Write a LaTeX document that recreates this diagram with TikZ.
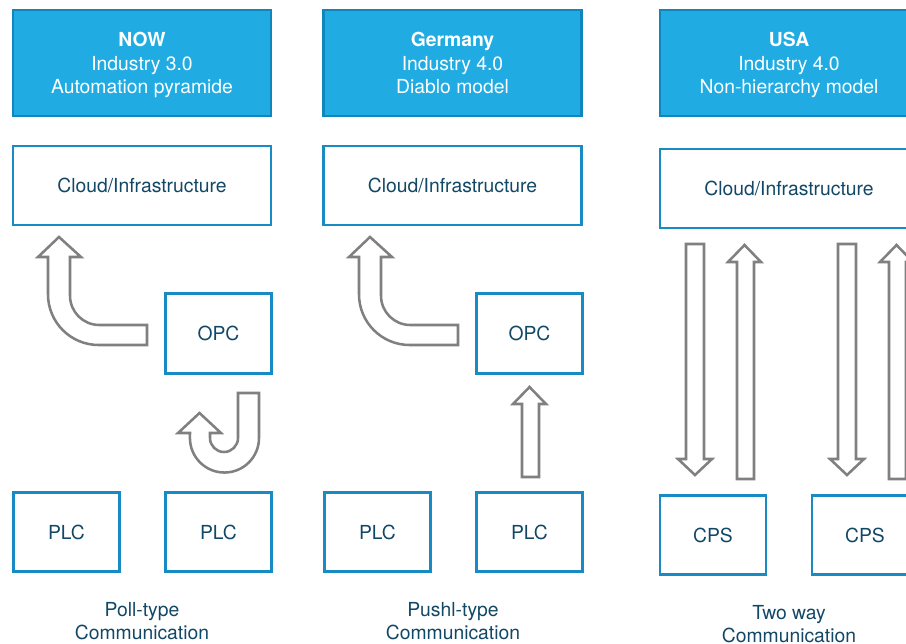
\documentclass[tikz,border=0pt]{standalone}
\usepackage{fontspec}
\setmainfont{TeX Gyre Heros}
\definecolor{hfill}{RGB}{32,172,227}
\definecolor{hdraw}{RGB}{16,134,190}
\definecolor{bdraw}{RGB}{24,138,196}
\definecolor{txt}{RGB}{18,72,102}
\definecolor{agray}{RGB}{128,128,128}
\newcommand{\topstrut}{\rule{0pt}{16.1pt}}
\tikzset{
  hbox/.style={draw=hdraw, fill=hfill, line width=2.2pt, text=white, align=center,
    inner sep=0pt, outer sep=0pt, minimum width=193.5pt, minimum height=79.5pt,
    font=\fontsize{14.5pt}{17.6pt}\selectfont},
  wbox/.style={draw=bdraw, fill=white, line width=2.2pt, text=txt, align=center,
    inner sep=0pt, outer sep=0pt, font=\fontsize{14.5pt}{17.6pt}\selectfont},
  cloudbox/.style={wbox, minimum width=193.5pt, minimum height=59.25pt},
  smallbox/.style={wbox, minimum width=79.5pt, minimum height=59.5pt},
  lbl/.style={text=txt, align=center, font=\fontsize{14.5pt}{17.6pt}\selectfont},
  barrow/.style={draw=agray, fill=white, line width=1.9pt, line join=miter}
}
\begin{document}
\begin{tikzpicture}[x=0.75pt,y=-0.75pt]
\useasboundingbox (0,0) rectangle (906,643);
\clip (0,0) rectangle (906,643);
% headers
\node[hbox] (h1) at (142,63) {\topstrut\textbf{NOW}\\Industry 3.0\\Automation pyramide\strut};
\node[hbox] (h2) at (452.5,63) {\topstrut\textbf{Germany}\\Industry 4.0\\Diablo model\strut};
\node[hbox] (h3) at (789,63) {\topstrut\textbf{USA}\\Industry 4.0\\Non-hierarchy model\strut};
% clouds
\node[cloudbox] (c1) at (142,185.5) {Cloud/Infrastructure};
\node[cloudbox] (c2) at (452.5,185.5) {Cloud/Infrastructure};
\node[cloudbox] (c3) at (789,188.5) {Cloud/Infrastructure};
% OPC
\node[smallbox] (o1) at (218.5,333.5) {OPC};
\node[smallbox] (o2) at (529.5,333.5) {OPC};
% PLC / CPS
\node[smallbox] (p1) at (66.5,532) {PLC};
\node[smallbox] (p2) at (218.5,532) {PLC};
\node[smallbox] (p3) at (377.5,532) {PLC};
\node[smallbox] (p4) at (529.5,532) {PLC};
\node[smallbox] (s1) at (713,535) {CPS};
\node[smallbox] (s2) at (865,535) {CPS};
% labels
\node[lbl] (l1) at (142,621) {Poll-type\\Communication};
\node[lbl] (l2) at (453,621) {Pushl-type\\Communication};
\node[lbl] (l3) at (789,624) {Two way\\Communication};
% curved arrows (col 1 and 2)
\foreach \dx in {0,311}{
  \begin{scope}[xshift=\dx*0.75pt]
  \draw[barrow] (59,237) -- (81,257) -- (70,257)
     [rounded corners=22pt] -- (70,325) [sharp corners] -- (147,325) -- (147,345)
     [rounded corners=38pt] -- (48,345) [sharp corners] -- (48,257) -- (38,257) -- cycle;
  \end{scope}
}
% J arrow (col 1)
\draw[barrow] (238,393) -- (259,393) -- (259,438)
   arc[start angle=0, end angle=-180, radius=25.9pt] -- (190,433) -- (178,433)
   -- (199.5,413) -- (221,433) -- (210,433) -- (210,438)
   arc[start angle=180, end angle=360, radius=10.5pt] -- cycle;
% straight up arrow (col 2)
\draw[barrow] (522,477) -- (522,404) -- (513,404) -- (529.5,387) -- (546,404)
   -- (539,404) -- (539,477) -- cycle;
% col 3 two-way arrows
\foreach \dx in {0,152}{
  \begin{scope}[xshift=\dx*0.75pt]
  \draw[barrow] (686,244) -- (704,244) -- (704,459) -- (712,459) -- (695,475)
     -- (678,459) -- (686,459) -- cycle;
  \draw[barrow] (737,479) -- (737,262) -- (728,262) -- (744.5,245) -- (761,262)
     -- (754,262) -- (754,479) -- cycle;
  \end{scope}
}
\end{tikzpicture}
\end{document}
